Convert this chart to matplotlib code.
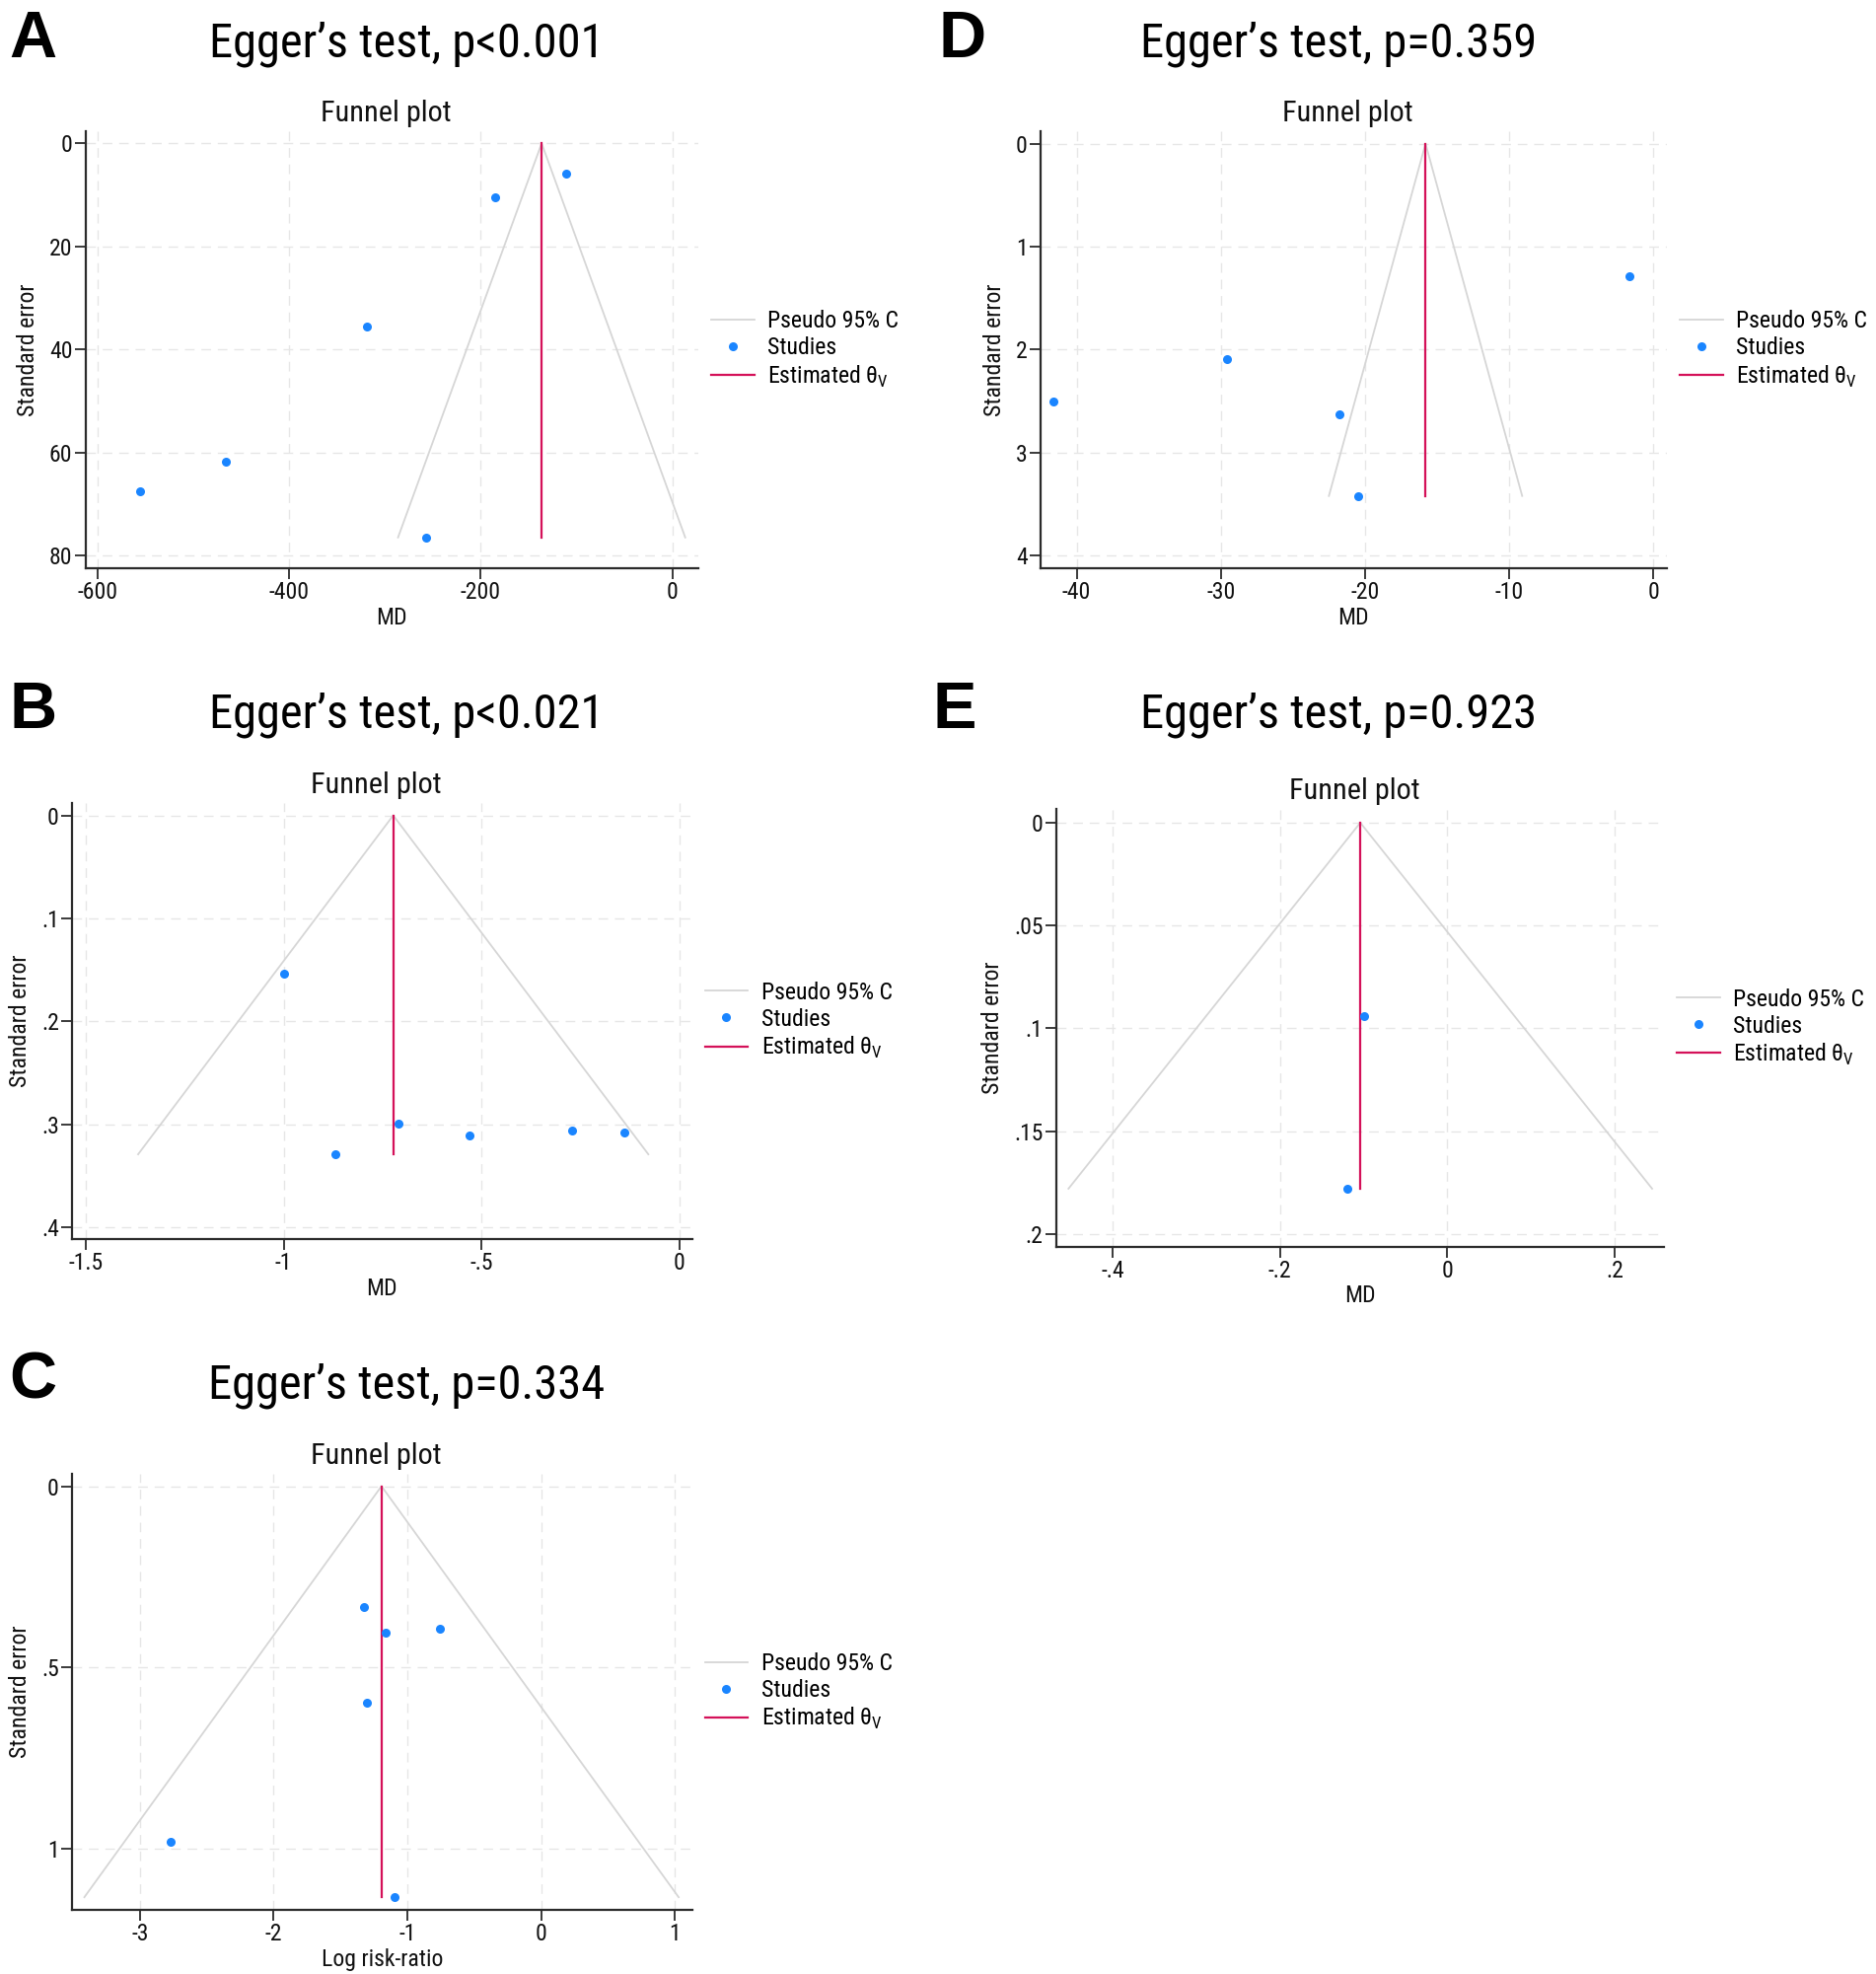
import os
import matplotlib
matplotlib.use("Agg")
import matplotlib.pyplot as plt
from matplotlib import font_manager
from matplotlib.font_manager import FontProperties

# ---------------- data ----------------
A_md = [-110.9, -184.8, -319.4, -466.0, -555.5, -257.4]
A_se = [5.9, 10.4, 35.6, 61.7, 67.5, 76.5]
A_theta = -136.5
A_xticks = [-600, -400, -200, 0]
A_xticklabels = ["-600", "-400", "-200", "0"]
A_yticks = [0, 20, 40, 60, 80]
A_yticklabels = ["0", "20", "40", "60", "80"]

B_md = [-1.0, -0.71, -0.87, -0.53, -0.27, -0.14]
B_se = [0.154, 0.299, 0.329, 0.311, 0.306, 0.308]
B_theta = -0.723
B_xticks = [-1.5, -1.0, -0.5, 0]
B_xticklabels = ["-1.5", "-1", "-.5", "0"]
B_yticks = [0, 0.1, 0.2, 0.3, 0.4]
B_yticklabels = ["0", ".1", ".2", ".3", ".4"]

C_lrr = [-1.324, -1.163, -0.754, -1.302, -2.770, -1.100]
C_se = [0.334, 0.403, 0.393, 0.597, 0.981, 1.133]
C_theta = -1.194
C_xticks = [-3, -2, -1, 0, 1]
C_xticklabels = ["-3", "-2", "-1", "0", "1"]
C_yticks = [0, 0.5, 1.0]
C_yticklabels = ["0", ".5", "1"]

D_md = [-1.67, -29.6, -41.6, -21.8, -20.5]
D_se = [1.289, 2.09, 2.507, 2.625, 3.42]
D_theta = -15.8
D_xticks = [-40, -30, -20, -10, 0]
D_xticklabels = ["-40", "-30", "-20", "-10", "0"]
D_yticks = [0, 1, 2, 3, 4]
D_yticklabels = ["0", "1", "2", "3", "4"]

E_md = [-0.100, -0.120]
E_se = [0.094, 0.178]
E_theta = -0.104
E_xticks = [-0.4, -0.2, 0, 0.2]
E_xticklabels = ["-.4", "-.2", "0", ".2"]
E_yticks = [0, 0.05, 0.10, 0.15, 0.20]
E_yticklabels = ["0", ".05", ".1", ".15", ".2"]

panel_letters = ["A", "B", "C", "D", "E"]
egger_titles = ["Egger\u2019s test, p<0.001", "Egger\u2019s test, p<0.021",
                "Egger\u2019s test, p=0.334", "Egger\u2019s test, p=0.359",
                "Egger\u2019s test, p=0.923"]
legend_labels = ["Pseudo 95% C", "Studies", "Estimated \u03b8$_\\mathregular{V}$"]


# ---------------- fonts: prefer a narrow sans (reference uses Arial Narrow look) ----------------
def pick_font():
    prefs = ["liberation sans narrow", "arial narrow", "nimbus sans narrow",
             "roboto condensed", "open sans condensed", "open sans",
             "noto sans", "lato", "inter", "dejavu sans condensed"]
    bad = ["bold", "light", "medium", "thin", "black", "italic", "oblique",
           "extra", "ultra", "mono", "serif", "semi", "display", "heavy", "cjk"]
    best = None
    for f in font_manager.fontManager.ttflist:
        base = os.path.basename(f.fname).lower()
        key = (f.name + " " + base).lower()
        if not ("narrow" in key or "condensed" in key):
            continue
        if any(b in base for b in bad):
            continue
        if f.style != "normal" or f.weight not in (400, "normal", "regular"):
            continue
        rank = len(prefs)
        for i, p in enumerate(prefs):
            if p in f.name.lower():
                rank = i
                break
        cand = (rank, f.name, f.fname)
        if best is None or cand < best:
            best = cand
    if best is not None:
        return best[2]
    return font_manager.findfont(FontProperties(family="Liberation Sans"))


FONT_PATH = pick_font()
plt.rcParams["font.family"] = ["Liberation Sans", "DejaVu Sans"]
plt.rcParams["mathtext.fontset"] = "custom"
plt.rcParams["mathtext.rm"] = "Liberation Sans"

COL_CI = "#d6d6d6"
COL_PT = "#1a85ff"
COL_TH = "#d41159"
COL_AX = "#2b2b2b"
COL_GRID = "#e6e6e6"
COL_TXT = "#111111"

W, H = 1902, 2001
fig = plt.figure(figsize=(W / 100, H / 100), dpi=100)
fig.patch.set_facecolor("white")
renderer = fig.canvas.get_renderer()


def fit_size(text, target_px, base=20.0):
    fp = FontProperties(fname=FONT_PATH, size=base)
    t = fig.text(0, 0, text, fontproperties=fp)
    w = t.get_window_extent(renderer).width
    t.remove()
    return base * target_px / w


S_EGG = fit_size("Egger\u2019s test, p<0.001", 400)
S_FUN = fit_size("Funnel plot", 132)
S_SMALL = fit_size("Pseudo 95% C", 133)

fp_egg = FontProperties(fname=FONT_PATH, size=S_EGG)
fp_fun = FontProperties(fname=FONT_PATH, size=S_FUN)
fp_small = FontProperties(fname=FONT_PATH, size=S_SMALL)
fp_let = FontProperties(family="Liberation Sans", weight="bold", size=48)


def add_ax(l, r, t, b):
    return fig.add_axes([l / W, 1 - b / H, (r - l) / W, (b - t) / H])


def funnel(rect, x, se, theta, xticks, xtl, yticks, ytl, xlim, ylim, xlabel):
    l, r, t, b = rect
    ax = add_ax(l, r, t, b)
    ax.set_xlim(*xlim)
    ax.set_ylim(ylim[1], ylim[0])
    ax.set_xticks(xticks)
    ax.set_xticklabels(xtl, fontproperties=fp_small, color=COL_TXT)
    ax.set_yticks(yticks)
    ax.set_yticklabels(ytl, fontproperties=fp_small, color=COL_TXT)
    ax.grid(True, color=COL_GRID, linestyle=(0, (7, 5)), linewidth=1.0)
    ax.set_axisbelow(True)
    se_max = max(se)
    ax.plot([theta - 1.96 * se_max, theta, theta + 1.96 * se_max],
            [se_max, 0, se_max], color=COL_CI, lw=1.3, label=legend_labels[0])
    ax.plot(x, se, "o", color=COL_PT, ms=6.5, mec="none",
            label=legend_labels[1], clip_on=False, zorder=4)
    ax.plot([theta, theta], [0, se_max], color=COL_TH, lw=1.6,
            label=legend_labels[2], zorder=3)
    for s in ("top", "right"):
        ax.spines[s].set_visible(False)
    for s in ("left", "bottom"):
        ax.spines[s].set_linewidth(1.6)
        ax.spines[s].set_color(COL_AX)
    ax.tick_params(direction="out", length=8, width=1.3, color=COL_AX, pad=1.5)
    ax.set_xlabel(xlabel, fontproperties=fp_small, labelpad=2, color=COL_TXT)
    ax.set_ylabel("Standard error", fontproperties=fp_small, labelpad=7, color=COL_TXT)
    axw = r - l
    ax.legend(loc="center left", bbox_to_anchor=(1 + 13 / axw, 0.5),
              frameon=False, prop=fp_small, handlelength=1.85,
              handletextpad=0.55, labelspacing=0.17, borderaxespad=0,
              borderpad=0)
    fig.text(((l + r) / 2 - 6) / W, 1 - (t - 10) / H, "Funnel plot",
             ha="center", va="baseline", fontproperties=fp_fun, color=COL_TXT)
    return ax


rects = {
    "A": (86.5, 707.6, 133.3, 575.6),
    "B": (73, 701.5, 813.8, 1256),
    "C": (73, 701.5, 1494, 1936),
    "D": (1055, 1689.7, 133.3, 575.6),
    "E": (1070.8, 1687, 820, 1263.5),
}

funnel(rects["A"], A_md, A_se, A_theta, A_xticks, A_xticklabels, A_yticks,
       A_yticklabels, (-613, 26.7), (-2.3, 82.4), "MD")
funnel(rects["B"], B_md, B_se, B_theta, B_xticks, B_xticklabels, B_yticks,
       B_yticklabels, (-1.535, 0.032), (-0.0122, 0.4113), "MD")
funnel(rects["C"], C_lrr, C_se, C_theta, C_xticks, C_xticklabels, C_yticks,
       C_yticklabels, (-3.507, 1.126), (-0.034, 1.168), "Log risk-ratio")
funnel(rects["D"], D_md, D_se, D_theta, D_xticks, D_xticklabels, D_yticks,
       D_yticklabels, (-42.5, 0.92), (-0.118, 4.118), "MD")
funnel(rects["E"], E_md, E_se, E_theta, E_xticks, E_xticklabels, E_yticks,
       E_yticklabels, (-0.4676, 0.259), (-0.0067, 0.2061), "MD")

# panel letters and Egger titles
letter_pos = [(9, 58), (9, 738), (9, 1418), (951, 58), (945, 738)]
title_pos = [(412, 57), (412, 737), (412, 1417), (1357, 57), (1357, 737)]
for let, (lx, ly), ttl, (tx, ty) in zip(panel_letters, letter_pos, egger_titles, title_pos):
    fig.text(lx / W, 1 - ly / H, let, ha="left", va="baseline",
             fontproperties=fp_let, color="black")
    fig.text(tx / W, 1 - ty / H, ttl, ha="center", va="baseline",
             fontproperties=fp_egg, color="black")

fig.savefig("out.png", dpi=100, facecolor="white")
